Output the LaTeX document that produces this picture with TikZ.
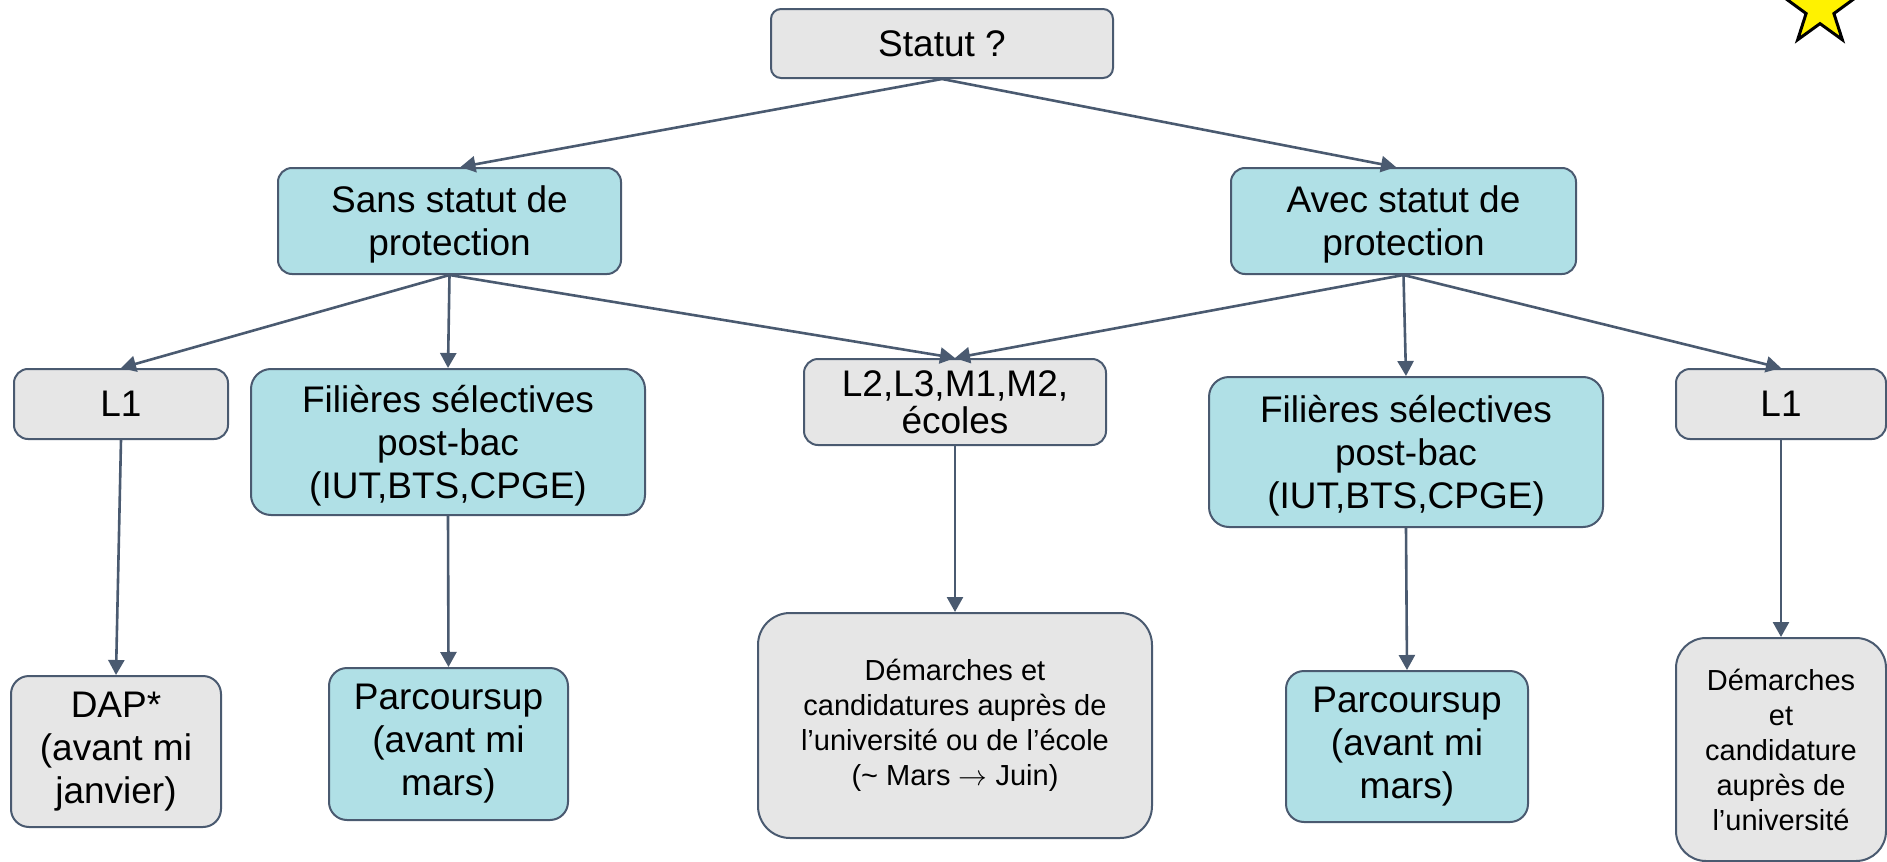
\documentclass[tikz,border=0pt]{standalone}
\usepackage{fontspec}
\setmainfont{Liberation Sans}
\usetikzlibrary{arrows.meta,shapes.geometric}
\definecolor{edge}{HTML}{4A5A70}
\definecolor{greyfill}{HTML}{E6E6E6}
\definecolor{bluefill}{HTML}{B0E0E6}
\newcommand{\bigtxt}{\fontsize{18.5}{21.5}\selectfont}
\newcommand{\tighttxt}{\fontsize{18.5}{18.5}\selectfont}
\newcommand{\smalltxt}{\fontsize{14.5}{17.5}\selectfont}
\begin{document}
\begin{tikzpicture}[
                x=0.5pt, y=-0.5pt,
                greybox/.style = {draw=edge, fill=greyfill, line width=1pt, rounded corners=7pt, align=center, inner sep=0pt, font=\bigtxt},
                bluebox/.style = {greybox, fill=bluefill},
                link/.style = {draw=edge, line width=1.3pt, -{Triangle[length=7.5pt,width=8pt]}},
            ]
            \useasboundingbox (0,0) rectangle (1887,862);
            \node (statut) at (942,43.5) [greybox, minimum width=171pt, minimum height=34.5pt, rounded corners=5pt] {Statut ?};
            \node (sans) at (449.5,221) [bluebox, minimum width=171.5pt, minimum height=53pt, text depth=0pt] {Sans statut de\\protection};
            \node (avec) at (1403.5,221) [bluebox, minimum width=172.5pt, minimum height=53pt, text depth=0pt] {Avec statut de\\protection};

            \node (l1a) at (121,404) [greybox, minimum width=107pt, minimum height=35pt] {L1};
            \node (fila) at (448,442) [bluebox, minimum width=197pt, minimum height=73pt, rounded corners=10pt, text depth=0pt] {Filières sélectives\\post-bac\\(IUT,BTS,CPGE)};
            \node (l2) at (955,402) [greybox, minimum width=151pt, minimum height=43pt, font=\tighttxt] {L2,L3,M1,M2,\\écoles};
            \node (filb) at (1406,452) [bluebox, minimum width=197pt, minimum height=75pt, rounded corners=10pt, text depth=0pt] {Filières sélectives\\post-bac\\(IUT,BTS,CPGE)};
            \node (l1b) at (1781,404) [greybox, minimum width=105pt, minimum height=35pt] {L1};

            \node (dap) at (116,751.5) [greybox, minimum width=105pt, minimum height=75.5pt, rounded corners=9pt] {DAP*\\(avant mi\\janvier)};
            \node (pca) at (448.5,744) [bluebox, minimum width=119.5pt, minimum height=76pt, rounded corners=9pt] {Parcoursup\\(avant mi\\mars)};
            \node (dem) at (955,725.5) [greybox, minimum width=197pt, minimum height=112.5pt, rounded corners=16pt, font=\smalltxt] {Démarches et\\candidatures auprès de\\l’université ou de l’école\\(\textasciitilde{} Mars $\rightarrow$ Juin)};
            \node (pcb) at (1407,746.5) [bluebox, minimum width=121pt, minimum height=75.5pt, rounded corners=9pt] {Parcoursup\\(avant mi\\mars)};
            \node (demb) at (1781,749.5) [greybox, minimum width=105pt, minimum height=111.5pt, rounded corners=15pt, font=\smalltxt] {Démarches\\et\\candidature\\auprès de\\l’université};

            \node (etoile) at (1820,9) [star, star points=5, star point ratio=2.6, draw=black, fill=yellow, line width=1.5pt, inner sep=0pt, minimum size=38pt] {};

            \draw[link] (statut.south) -- ([xshift=5.5pt]sans.north);
            \draw[link] (statut.south) -- ([xshift=-3.75pt]avec.north);
            \draw[link] (sans.south) -- (l1a.north);
            \draw[link] (sans.south) -- (fila.north);
            \draw[link] (sans.south) -- (l2.north);
            \draw[link] (avec.south) -- (l2.north);
            \draw[link] (avec.south) -- (filb.north);
            \draw[link] (avec.south) -- (l1b.north);
            \draw[link] (l1a.south) -- (dap.north);
            \draw[link] (fila.south) -- (pca.north);
            \draw[link] (l2.south) -- (dem.north);
            \draw[link] (filb.south) -- (pcb.north);
            \draw[link] (l1b.south) -- (demb.north);
        \end{tikzpicture}
\end{document}
